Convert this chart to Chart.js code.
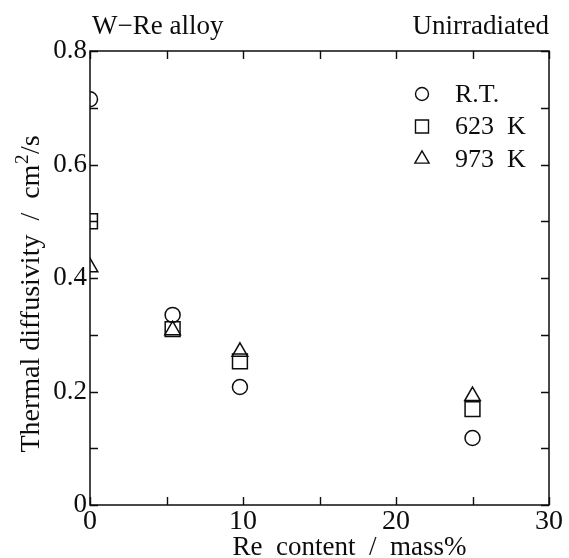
<!DOCTYPE html>
<html>
<head>
<meta charset="utf-8">
<script src="https://cdn.jsdelivr.net/npm/chart.js@4/dist/chart.umd.min.js"></script>
<style>
  html, body { margin: 0; padding: 0; background: #fff; }
  #wrap { width: 569px; height: 558px; }
</style>
</head>
<body>
<div id="wrap"><canvas id="c" width="569" height="558"></canvas></div>
<script>
// Re content of the W-Re specimens (mass%)
const reContent = [0, 5.4, 9.8, 25];
// Thermal diffusivity (cm^2/s) at each measuring temperature
const diffusivityRT = [0.715, 0.335, 0.208, 0.118];
const diffusivity623K = [0.500, 0.310, 0.253, 0.169];
const diffusivity973K = [0.419, 0.308, 0.270, 0.192];
const seriesNames = ['R.T.', '623  K', '973  K'];
const seriesSymbols = ['circle', 'rect', 'triangle'];

const xTitle = 'Re  content  /  mass%';
// y title pieces: base text, superscript, tail
const yTitleParts = ['Thermal diffusivity  /  cm', '2', '/s'];
const leftCaption = 'W\u2212Re alloy';
const rightCaption = 'Unirradiated';

const INK = '#0d0d0d';
const SERIF = "'Liberation Serif', 'Times New Roman', serif";

function pts(values) {
  return values.map((v, i) => ({ x: reContent[i], y: v }));
}

const symbolRadius = { circle: 7.5, rect: 10.5, triangle: 9 };
const legendRadius = { circle: 6.5, rect: 9.2, triangle: 8.2 };

const seriesValues = [diffusivityRT, diffusivity623K, diffusivity973K];
const datasets = seriesValues.map((vals, i) => ({
  label: seriesNames[i],
  data: pts(vals),
  pointStyle: seriesSymbols[i],
  pointRadius: symbolRadius[seriesSymbols[i]],
  pointHoverRadius: symbolRadius[seriesSymbols[i]],
  pointBackgroundColor: 'rgba(0,0,0,0)',
  pointBorderColor: INK,
  pointBorderWidth: 1.5,
  showLine: false,
  clip: 0
}));

// Inward tick marks on all four sides plus the closed frame
const frameTicks = {
  id: 'frameTicks',
  afterDatasetsDraw(chart) {
    const { ctx, chartArea: a, scales: { x, y } } = chart;
    const L = 8;
    ctx.save();
    ctx.strokeStyle = INK;
    ctx.lineWidth = 1.4;
    ctx.beginPath();
    x.ticks.forEach(t => {
      const px = Math.round(x.getPixelForValue(t.value)) + 0.5;
      ctx.moveTo(px, a.bottom); ctx.lineTo(px, a.bottom - L);
      ctx.moveTo(px, a.top); ctx.lineTo(px, a.top + L);
    });
    y.ticks.forEach(t => {
      const py = Math.round(y.getPixelForValue(t.value)) + 0.5;
      ctx.moveTo(a.left, py); ctx.lineTo(a.left + L, py);
      ctx.moveTo(a.right, py); ctx.lineTo(a.right - L, py);
    });
    ctx.stroke();
    ctx.lineWidth = 1.5;
    ctx.strokeRect(a.left, a.top, a.right - a.left, a.bottom - a.top);
    ctx.restore();
  }
};

// Captions, axis titles and the in-plot key
const annotations = {
  id: 'annotations',
  afterDraw(chart) {
    const { ctx, chartArea: a } = chart;
    ctx.save();
    ctx.fillStyle = INK;
    ctx.font = '27px ' + SERIF;
    ctx.textBaseline = 'alphabetic';

    ctx.textAlign = 'left';
    ctx.fillText(leftCaption, a.left + 2, 34);
    ctx.textAlign = 'right';
    ctx.fillText(rightCaption, a.right, 34);

    // x-axis title
    ctx.textAlign = 'center';
    ctx.fillText(xTitle, (a.left + a.right) / 2 + 30, 555);

    // y-axis title (rotated, with superscript)
    ctx.save();
    const baseFont = '28px ' + SERIF, supFont = '19px ' + SERIF;
    ctx.font = baseFont;
    const w0 = ctx.measureText(yTitleParts[0]).width;
    const w2 = ctx.measureText(yTitleParts[2]).width;
    ctx.font = supFont;
    const w1 = ctx.measureText(yTitleParts[1]).width + 1;
    const total = w0 + w1 + w2;
    ctx.translate(39, (a.top + a.bottom) / 2 + 16);
    ctx.rotate(-Math.PI / 2);
    ctx.textAlign = 'left';
    let cx = -total / 2;
    ctx.font = baseFont;
    ctx.fillText(yTitleParts[0], cx, 0);
    cx += w0;
    ctx.font = supFont;
    ctx.fillText(yTitleParts[1], cx + 0.5, -11);
    cx += w1;
    ctx.font = baseFont;
    ctx.fillText(yTitleParts[2], cx, 0);
    ctx.restore();

    // key
    ctx.font = '26px ' + SERIF;
    ctx.textAlign = 'left';
    ctx.textBaseline = 'middle';
    const kx = a.right - 127, tx = a.right - 94;
    chart.data.datasets.forEach((ds, i) => {
      const ky = a.top + 43 + i * 32.5;
      ctx.save();
      ctx.strokeStyle = INK;
      ctx.fillStyle = 'rgba(0,0,0,0)';
      ctx.lineWidth = 1.4;
      Chart.helpers.drawPoint(ctx, {
        pointStyle: ds.pointStyle,
        radius: legendRadius[ds.pointStyle],
        rotation: 0,
        borderWidth: 1.4
      }, kx, ky);
      ctx.restore();
      ctx.fillText(ds.label, tx, ky + 1);
    });
    ctx.restore();
  }
};

new Chart(document.getElementById('c'), {
  type: 'scatter',
  data: { datasets },
  plugins: [frameTicks, annotations],
  options: {
    responsive: false,
    devicePixelRatio: 1,
    animation: false,
    layout: { padding: { top: 51, right: 20, bottom: 0, left: 0 } },
    plugins: { legend: { display: false }, tooltip: { enabled: false } },
    scales: {
      x: {
        type: 'linear',
        min: 0, max: 30,
        grid: { display: false, drawTicks: false },
        border: { display: false },
        afterFit: s => { s.height = 53; },
        ticks: {
          stepSize: 5,
          autoSkip: false,
          maxRotation: 0,
          padding: 0,
          color: INK,
          font: { family: SERIF, size: 28 },
          callback: v => (Math.round(v) % 10 === 0 ? String(v) : '')
        }
      },
      y: {
        type: 'linear',
        min: 0, max: 0.8,
        grid: { display: false, drawTicks: false },
        border: { display: false },
        afterFit: s => { s.width = 90; },
        ticks: {
          stepSize: 0.1,
          autoSkip: false,
          padding: 3,
          color: INK,
          font: { family: SERIF, size: 27 },
          callback: v => {
            const k = Math.round(v * 10);
            if (k % 2 !== 0) return '';
            return k === 0 ? '0' : (k / 10).toFixed(1);
          }
        }
      }
    }
  }
});
</script>
</body>
</html>
